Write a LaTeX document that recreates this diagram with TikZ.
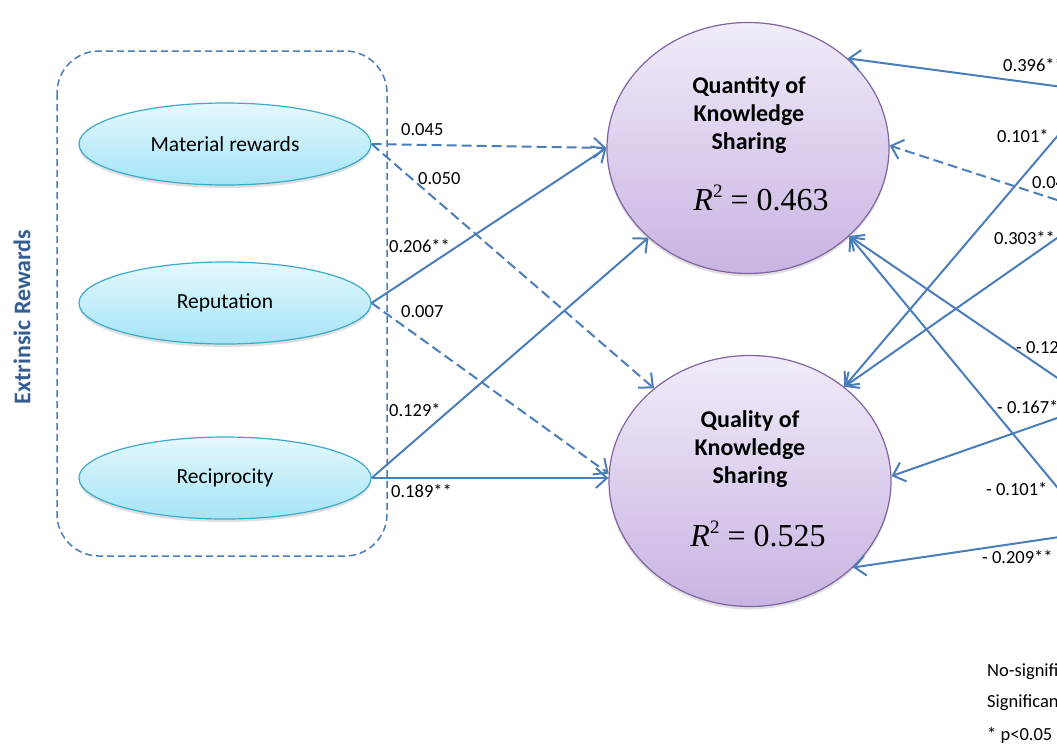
\documentclass[tikz,border=0pt]{standalone}
\usepackage{fontspec}
\setmainfont{Carlito}
\newfontfamily\tnr{Liberation Serif}
\usetikzlibrary{arrows.meta,shapes.geometric,shadows}
\definecolor{arr}{RGB}{74,126,187}
\definecolor{extc}{RGB}{55,94,146}
\definecolor{srcb}{RGB}{60,170,200}
\definecolor{srctop}{RGB}{228,248,253}
\definecolor{srcbot}{RGB}{164,228,247}
\definecolor{tgtb}{RGB}{128,100,162}
\definecolor{tgttop}{RGB}{241,235,249}
\definecolor{tgtbot}{RGB}{200,180,226}
\tikzset{
  srcnode/.style={ellipse, draw=srcb, line width=1.2pt, top color=srctop, bottom color=srcbot,
    minimum width=292pt, minimum height=82pt, inner sep=0pt, font=\fontsize{21.5}{25}\selectfont,
    drop shadow={opacity=0.25, shadow xshift=0pt, shadow yshift=-3pt}},
  tgtnode/.style={ellipse, draw=tgtb, line width=1.2pt, top color=tgttop, bottom color=tgtbot,
    minimum width=282pt, minimum height=251pt, inner sep=0pt,
    drop shadow={opacity=0.25, shadow xshift=0pt, shadow yshift=-3pt}},
  tgttext/.style={font=\bfseries\fontsize{24}{28}\selectfont, align=center, inner sep=0pt},
  rtext/.style={font=\tnr\fontsize{32}{36}\selectfont, inner sep=0pt},
  sig/.style={draw=arr, line width=2pt, -{Straight Barb[length=11pt,width=20pt,line width=2pt]}},
  nsig/.style={sig, dash pattern=on 10pt off 5pt},
  lbl/.style={font=\fontsize{18.5}{21}\selectfont, anchor=west, inner sep=0pt, text=black},
}
\newcommand{\rsq}[1]{\textit{R}\raisebox{0.42em}{\fontsize{19}{19}\selectfont 2} = #1}
\begin{document}
\begin{tikzpicture}[x=1pt,y=-1pt]
\useasboundingbox (0,0) rectangle (1057,755);
\clip (0,0) rectangle (1057,755);
\fill[white] (0,0) rectangle (1057,755);

% group box
\draw[arr, line width=1.5pt, dash pattern=on 7pt off 4pt, rounded corners=42pt] (57,51) rectangle (387,556);
\node[rotate=90, font=\bfseries\fontsize{24}{28}\selectfont, text=extc] (ext) at (22,317) {Extrinsic Rewards};

% source ellipses
\node[srcnode] (mat) at (225,144) {Material rewards};
\node[srcnode] (rep) at (225,303) {Reputation};
\node[srcnode] (rec) at (225,478) {Reciprocity};

% target circles
\node[tgtnode] (qty) at (748,148) {};
\node[tgtnode] (qly) at (750,481) {};
\node[tgttext] (qtyt) at (749,115) {Quantity of\\Knowledge\\Sharing};
\node[rtext] (qtyr) at (761,198) {\rsq{0.463}};
\node[tgttext] (qlyt) at (750,449) {Quality of\\Knowledge\\Sharing};
\node[rtext] (qlyr) at (758,534) {\rsq{0.525}};

% left paths
\draw[nsig] (mat.east) -- (qty.west);
\draw[nsig] (mat.east) -- (qly.136);
\draw[sig] (rep.east) -- (qty.west);
\draw[nsig] (rep.east) -- (qly.177);
\draw[sig] (rec.east) -- (qty.222);
\draw[sig] (rec.east) -- (rec.east -| qly.west);

\node[lbl] (l1) at (401,130) {0.045};
\node[lbl] (l2) at (418,179) {0.050};
\node[lbl] (l3) at (389,246) {0.206**};
\node[lbl] (l4) at (401,312) {0.007};
\node[lbl] (l5) at (389,410) {0.129*};
\node[lbl] (l6) at (391,491) {0.189**};

% right sources (outside the visible area)
\coordinate (s396) at (1100,92);
\coordinate (s04) at (1100,214);
\coordinate (s101a) at (1100,86);
\coordinate (s303) at (1100,208);
\coordinate (s12) at (1100,407);
\coordinate (s101b) at (1100,539);
\coordinate (s167) at (1100,403);
\coordinate (s209) at (1100,531);

\draw[sig] (s396) -- (qty.42);
\draw[nsig] (s04) -- (qty.1);
\draw[sig] (s101a) -- (qly.45);
\draw[sig] (s303) -- (qly.45);
\draw[sig] (s12) -- (qty.319);
\draw[sig] (s101b) -- (qty.319);
\draw[sig] (s167) -- (qly.2);
\draw[sig] (s209) -- (qly.320);

\node[lbl] (r1) at (1003,65) {0.396**};
\node[lbl] (r2) at (997,136) {0.101*};
\node[lbl] (r3) at (1032,183) {0.04};
\node[lbl] (r4) at (994,238) {0.303**};
\node[lbl] (r5) at (1016,348) {- 0.12};
\node[lbl] (r6) at (997,407) {- 0.167*};
\node[lbl] (r7) at (986,489) {- 0.101*};
\node[lbl] (r8) at (982,557) {- 0.209**};

% legend
\node[lbl] (g1) at (987,672) {No-significant};
\node[lbl] (g2) at (987,703) {Significant};
\node[lbl] (g3) at (987,735) {* p<0.05};
\end{tikzpicture}
\end{document}
